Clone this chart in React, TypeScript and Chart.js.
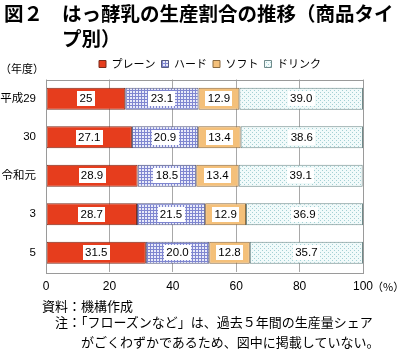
import React, { useEffect, useRef } from "react";
import { Chart, registerables } from "chart.js";

Chart.register(...registerables);

const categories = ["平成29", "30", "令和元", "3", "5"];
const seriesNames = ["プレーン", "ハード", "ソフト", "ドリンク"];
const plain = ["25", "27.1", "28.9", "28.7", "31.5"];
const hard = ["23.1", "20.9", "18.5", "21.5", "20.0"];
const soft = ["12.9", "13.4", "13.4", "12.9", "12.8"];
const drink = ["39.0", "38.6", "39.1", "36.9", "35.7"];
const xMin = 0;
const xMax = 100;
const xStep = 20;

const JP = "'Noto Sans CJK JP', sans-serif";
const NUM = "'Liberation Sans', 'Noto Sans CJK JP', sans-serif";

function makePattern(bg: string, fg: string, kind: "grid" | "dots") {
  const c = document.createElement("canvas");
  const n = kind === "grid" ? 3 : 4;
  c.width = n;
  c.height = n;
  const g = c.getContext("2d")!;
  g.fillStyle = bg;
  g.fillRect(0, 0, n, n);
  g.fillStyle = fg;
  if (kind === "grid") {
    g.fillRect(0, 0, n, 1);
    g.fillRect(0, 0, 1, n);
  } else {
    g.fillRect(0, 0, 1, 1);
    g.fillRect(2, 2, 1, 1);
  }
  return g.createPattern(c, "repeat")!;
}

const segLabels = {
  id: "segLabels",
  afterDatasetsDraw(chart: any) {
    const ctx = chart.ctx;
    ctx.save();
    ctx.font = `11.5px ${NUM}`;
    ctx.textAlign = "center";
    ctx.textBaseline = "middle";
    chart.data.datasets.forEach((ds: any, di: number) => {
      const meta = chart.getDatasetMeta(di);
      meta.data.forEach((el: any, i: number) => {
        const txt = ds.labelText[i];
        const p = el.getProps(["x", "base", "y"], true);
        const cx = (p.x + p.base) / 2;
        const w = Math.round(ctx.measureText(txt).width + 5);
        const h = 15;
        ctx.fillStyle = "#ffffff";
        ctx.fillRect(Math.round(cx - w / 2), Math.round(p.y - h / 2), w, h);
        ctx.fillStyle = "#000000";
        ctx.fillText(txt, cx, p.y + 0.5);
      });
    });
    ctx.restore();
  },
};

const frame = {
  id: "frame",
  afterDraw(chart: any) {
    const { ctx, chartArea: a } = chart;
    ctx.save();
    ctx.strokeStyle = "#9a9a9a";
    ctx.lineWidth = 1;
    ctx.strokeRect(Math.round(a.left) + 0.5, Math.round(a.top) + 0.5, Math.round(a.right - a.left), Math.round(a.bottom - a.top));
    ctx.restore();
  },
};

// centre the legend over the plot area (slightly right of it, as in the original)
const legendShift = {
  id: "legendShift",
  afterLayout(chart: any) {
    const lg = chart.legend;
    if (!lg) return;
    lg.left = chart.chartArea.left + 11;
    lg.right = chart.chartArea.right;
  },
};

export default function App() {
  const ref = useRef<HTMLCanvasElement>(null);

  useEffect(() => {
    const hardPat = makePattern("#e8eaf9", "#7f86d0", "grid");
    const drinkPat = makePattern("#f1fafa", "#a3d0d4", "dots");
    const sets = [plain, hard, soft, drink];
    const fills: any[] = ["#e63d1d", hardPat, "#f4c07a", drinkPat];
    const borders = ["#7a2a1a", "#555a80", "#8a6a40", "#6f8a8a"];
    const chart = new Chart(ref.current!, {
      type: "bar",
      data: {
        labels: categories,
        datasets: sets.map((s, i) => ({
          label: seriesNames[i],
          data: s.map(Number),
          labelText: s,
          backgroundColor: fills[i],
          borderColor: borders[i],
          borderWidth: 1,
          borderSkipped: false,
          barPercentage: 0.57,
          categoryPercentage: 1,
        })) as any,
      },
      options: {
        indexAxis: "y",
        responsive: false,
        animation: false,
        layout: { padding: { top: 52.5, right: 37, bottom: 62, left: 0 } },
        plugins: {
          legend: {
            position: "top",
            labels: {
              boxWidth: 7,
              boxHeight: 7,
              padding: 6,
              color: "#000",
              font: { family: JP, size: 11 },
            },
          },
          tooltip: { enabled: false },
        },
        scales: {
          x: {
            stacked: true,
            min: xMin,
            max: xMax,
            ticks: { stepSize: xStep, color: "#000", font: { family: NUM, size: 12 }, padding: 7 },
            grid: { color: "#a8a8a8", drawTicks: false },
            border: { display: false },
            afterFit: (s: any) => {
              s.height = 22;
            },
          },
          y: {
            stacked: true,
            ticks: { color: "#000", font: { family: NUM, size: 11.5 }, padding: 10 },
            grid: { display: false, drawTicks: false },
            border: { display: false },
            afterFit: (s: any) => {
              s.width = 46;
            },
          },
        },
      } as any,
      plugins: [segLabels, frame, legendShift],
    });
    return () => chart.destroy();
  }, []);

  const abs: React.CSSProperties = { position: "absolute", whiteSpace: "nowrap", color: "#000" };
  const title: React.CSSProperties = { ...abs, font: `bold 19.5px ${JP}`, lineHeight: "25px" };
  const note: React.CSSProperties = { ...abs, font: `13px ${JP}`, lineHeight: "16px" };

  return (
    <div style={{ position: "absolute", left: 0, top: 0, width: 400, height: 356, background: "#fff", overflow: "hidden" }}>
      <canvas ref={ref} width={400} height={356} style={{ position: "absolute", left: 0, top: 0 }} />
      <div style={{ ...title, left: 4, top: 0 }}>図２</div>
      <div style={{ ...title, left: 62, top: 0 }}>
        はっ酵乳の生産割合の推移（商品タイ
        <br />
        プ別）
      </div>
      <div style={{ ...abs, font: `11px ${JP}`, lineHeight: "14px", left: 0, top: 61 }}>（年度）</div>
      <div style={{ ...abs, font: `11px ${JP}`, lineHeight: "14px", left: 372, top: 279 }}>（%）</div>
      <div style={{ ...note, left: 42, top: 298 }}>資料：機構作成</div>
      <div style={{ ...note, left: 55, top: 314 }}>注：「フローズンなど」は、過去５年間の生産量シェア</div>
      <div style={{ ...note, left: 81, top: 334 }}>がごくわずかであるため、図中に掲載していない。</div>
    </div>
  );
}
